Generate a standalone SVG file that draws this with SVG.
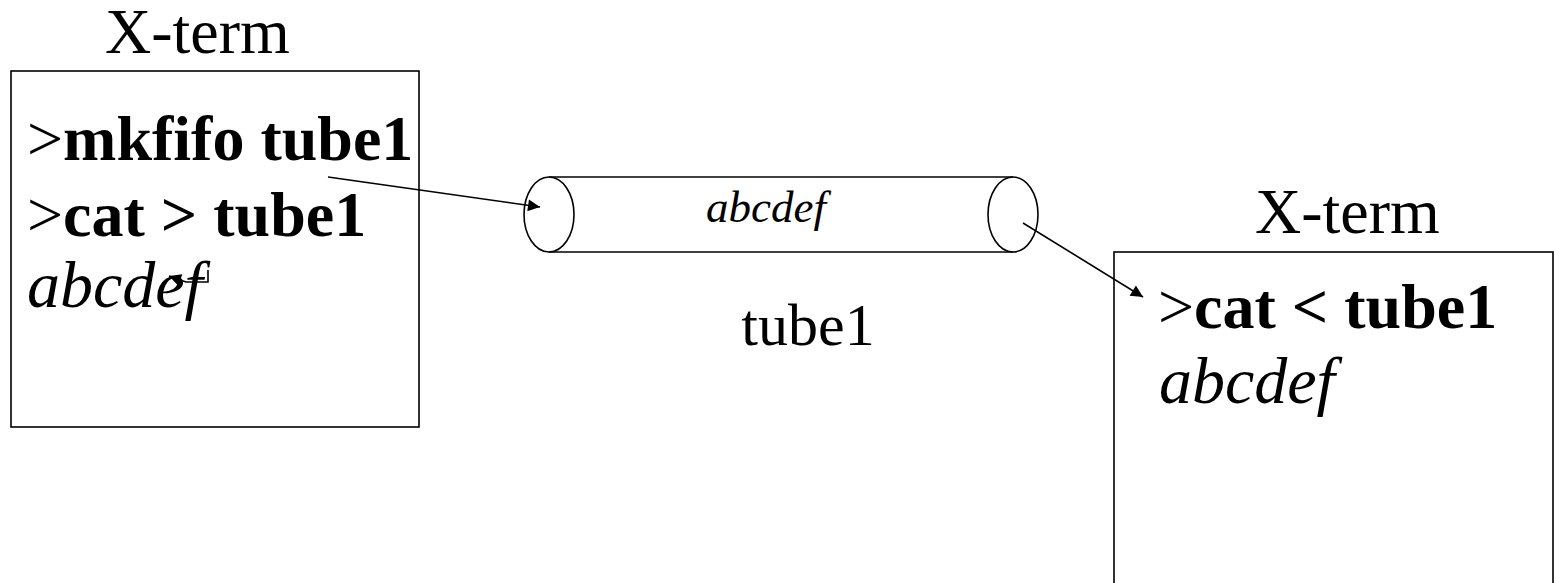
<svg xmlns="http://www.w3.org/2000/svg" width="1554" height="583" viewBox="0 0 1554 583">
<style>
.t{font-family:"Liberation Serif","Times New Roman",serif;fill:#000}
.b{font-weight:bold}
.i{font-style:italic}
.box{fill:#fff;stroke:#000;stroke-width:1.6}
.ln{fill:none;stroke:#000;stroke-width:1.6}
</style>
<defs>
<marker id="ah" viewBox="0 0 10 10" refX="10" refY="5" markerWidth="16" markerHeight="12" markerUnits="userSpaceOnUse" orient="auto">
<path d="M0,0 L10,5 L0,10 Z" fill="#000"/>
</marker>
<marker id="ahs" viewBox="0 0 10 10" refX="10" refY="5" markerWidth="15" markerHeight="12" markerUnits="userSpaceOnUse" orient="auto">
<path d="M0,0 L10,5 L0,10 Z" fill="#000"/>
</marker>
</defs>
<g id="xterm1">
<text class="t" x="105" y="53" font-size="64">X-term</text>
<rect class="box" x="11" y="71" width="408" height="356"/>
<text class="t" x="27" y="160" font-size="64">&gt;<tspan class="b">mkfifo tube1</tspan></text>
<text class="t" x="27" y="236" font-size="64">&gt;<tspan class="b">cat &gt; tube1</tspan></text>
<text class="t i" x="27" y="307" font-size="66">abcdef</text>
</g>
<g id="tube1">
<line class="ln" x1="549" y1="177" x2="1013" y2="177"/>
<line class="ln" x1="549" y1="252" x2="1013" y2="252"/>
<ellipse class="ln" cx="549" cy="214.5" rx="25" ry="37.5"/>
<ellipse class="ln" cx="1013" cy="214.5" rx="25" ry="37.5"/>
<text class="t i" x="766" y="222" font-size="45" text-anchor="middle">abcdef</text>
<text class="t" x="808" y="345" font-size="60" text-anchor="middle">tube1</text>
</g>
<g id="xterm2">
<text class="t" x="1255" y="233" font-size="64">X-term</text>
<rect class="box" x="1114" y="252" width="439" height="360" stroke-width="2"/>
<text class="t" x="1158" y="328" font-size="64">&gt;<tspan class="b">cat &lt; tube1</tspan></text>
<text class="t i" x="1159" y="403" font-size="66">abcdef</text>
</g>
<g id="connectors">
<line class="ln" x1="328" y1="177" x2="540" y2="207" marker-end="url(#ah)"/>
<line class="ln" x1="1023" y1="223" x2="1143" y2="297" marker-end="url(#ah)"/>
<polyline class="ln" points="208,270 208,282 186,282 169,276" stroke-width="1.4" marker-end="url(#ahs)"/>
</g>
</svg>
